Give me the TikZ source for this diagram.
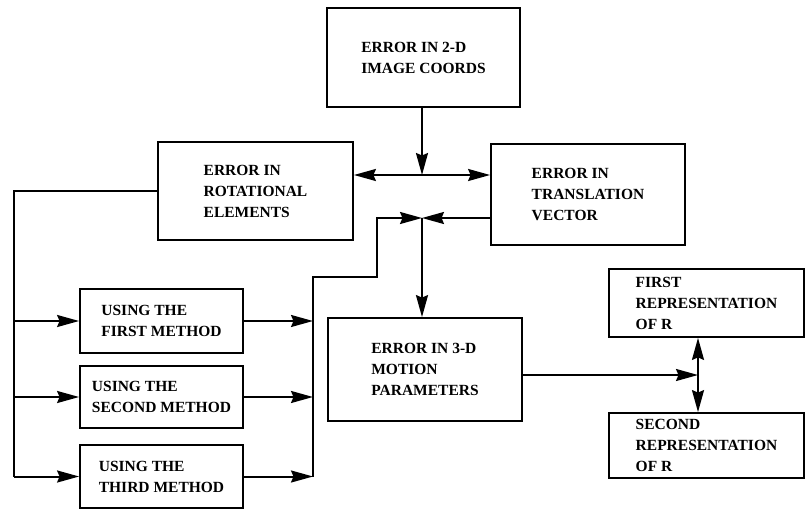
\documentclass[tikz,border=0pt]{standalone}
\usepackage{fontspec}
\setmainfont{Liberation Serif}
\usetikzlibrary{arrows.meta}
\begin{document}
\begin{tikzpicture}[x=1pt,y=-1pt,
  blk/.style={draw,line width=1.8pt,inner sep=0pt,align=left,
    font=\bfseries\fontsize{15.5}{21}\selectfont},
  conn/.style={line width=2pt},
  arr/.style={conn,-{Stealth[length=22pt,width=12pt,inset=2.5pt]}}]
\useasboundingbox (0,0) rectangle (806,511);
% boxes
\node[blk,minimum width=193pt,minimum height=99pt] (img) at (423.5,57.5) {ERROR IN 2-D\\IMAGE COORDS};
\node[blk,minimum width=195pt,minimum height=98pt] (rot) at (255.5,191) {ERROR IN\\ROTATIONAL\\ELEMENTS};
\node[blk,minimum width=194pt,minimum height=101pt] (tra) at (588,194.5) {ERROR IN\\TRANSLATION\\VECTOR};
\node[blk,minimum width=163pt,minimum height=64pt] (m1) at (161.5,321) {USING THE\\FIRST METHOD};
\node[blk,minimum width=163pt,minimum height=62pt] (m2) at (161.5,397) {USING THE\\SECOND METHOD};
\node[blk,minimum width=163pt,minimum height=63pt] (m3) at (161.5,476.5) {USING THE\\THIRD METHOD};
\node[blk,minimum width=194pt,minimum height=103pt] (mot) at (425,369.5) {ERROR IN 3-D\\MOTION\\PARAMETERS};
\node[blk,minimum width=195pt,minimum height=68pt] (r1) at (706.5,303) {FIRST\\REPRESENTATION\\OF R};
\node[blk,minimum width=195pt,minimum height=65pt,text depth=0pt] (r2) at (706.5,445.5) {SECOND\\REPRESENTATION\\OF R};
% junctions
\coordinate (j1) at (422,175);
\coordinate (j2) at (422,218);
\coordinate (j3) at (698,375);
\coordinate (bus) at (14,191);
\coordinate (col) at (313,277);
\coordinate (feed) at (377,277);
% connectors
\draw[arr] (img.south -| j1) -- (j1);
\draw[arr] (j1) -- (rot.east |- j1);
\draw[arr] (j1) -- (tra.west |- j1);
\draw[arr] (tra.west |- j2) -- (j2);
\draw[arr] (col |- m3.east) -- (col) -- (feed) -- (feed |- j2) -- (j2);
\draw[arr] (j2) -- (j2 |- mot.north);
\draw[conn] (rot.west |- bus) -- (bus) -- (bus |- m3.west);
\draw[arr] (bus |- m1.west) -- (m1.west);
\draw[arr] (bus |- m2.west) -- (m2.west);
\draw[arr] (bus |- m3.west) -- (m3.west);
\draw[arr] (m1.east) -- (col |- m1.east);
\draw[arr] (m2.east) -- (col |- m2.east);
\draw[arr] (m3.east) -- (col |- m3.east);
\draw[arr] (mot.east |- j3) -- (j3);
\draw[arr] (j3) -- (j3 |- r1.south);
\draw[arr] (j3) -- (j3 |- r2.north);
\end{tikzpicture}
\end{document}
